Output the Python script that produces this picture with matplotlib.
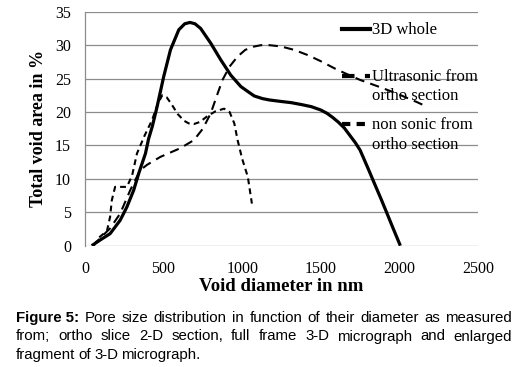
import matplotlib.pyplot as plt
from matplotlib.lines import Line2D

# values
whole_x = [43, 100, 160, 224, 267, 310, 342, 385, 405, 428, 459, 501, 544, 597, 635, 668, 700, 736, 800, 864,
           928, 992, 1040, 1077, 1130, 1174, 1240, 1312, 1380, 1440, 1500, 1540, 1575, 1611, 1650, 1685, 1720,
           1750, 1800, 1845, 1885, 1920, 1960, 2006]
whole_y = [0, 0.9, 1.8, 3.8, 5.8, 8.3, 10.8, 13.8, 16.0, 17.8, 20.8, 25.3, 29.3, 32.3, 33.2, 33.4, 33.2, 32.5,
           30.3, 27.8, 25.5, 23.8, 23.0, 22.4, 22.0, 21.8, 21.6, 21.4, 21.1, 20.8, 20.3, 19.8, 19.2, 18.5, 17.6,
           16.5, 15.4, 14.3, 11.6, 9.1, 6.9, 4.9, 2.6, 0]

ultra_x = [50, 96, 160, 224, 288, 352, 395, 481, 608, 693, 750, 800, 840, 875, 920, 971, 1020, 1077, 1120,
           1174, 1248, 1330, 1419, 1500, 1590, 1654, 1750, 1891, 2000, 2059, 2110, 2165]
ultra_y = [0, 1.1, 2.6, 4.8, 8.3, 11.3, 12.1, 13.3, 14.6, 15.8, 17.5, 19.8, 22.5, 24.8, 26.8, 28.3, 29.3, 29.8,
           30.0, 30.0, 29.8, 29.3, 28.5, 27.6, 26.5, 25.8, 24.8, 23.6, 22.6, 22.0, 21.5, 20.9]

nonsonic_x = [55, 96, 140, 160, 171, 192, 230, 267, 300, 331, 380, 427, 460, 491, 520, 550, 590, 630, 660,
              693, 730, 780, 830, 885, 920, 950, 971, 1000, 1036, 1062]
nonsonic_y = [0, 1.35, 2.2, 4.3, 6.8, 8.8, 8.8, 8.8, 10.5, 13.8, 16.5, 18.8, 21.0, 22.5, 22.2, 21.2, 19.7,
              18.7, 18.3, 18.2, 18.5, 19.4, 20.1, 20.5, 20.0, 18.3, 15.8, 13.0, 10.3, 6.3]

labels = ['3D whole', 'Ultrasonic from\northo section', 'non sonic from\northo section']
x_ticks = [0, 500, 1000, 1500, 2000, 2500]
y_ticks = [0, 5, 10, 15, 20, 25, 30, 35]

serif = ['Liberation Serif', 'DejaVu Serif']
sans = ['Liberation Sans', 'DejaVu Sans']
W, H = 521, 367

fig = plt.figure(figsize=(W / 100, H / 100), dpi=100)
ax = fig.add_axes([0.163, 0.3305, 0.7545, 0.6375])

ax.plot(whole_x, whole_y, color='black', linewidth=2.3, solid_capstyle='butt', solid_joinstyle='round')
ax.plot(ultra_x, ultra_y, color='black', linewidth=1.5, dashes=(4.5, 3))
ax.plot(nonsonic_x, nonsonic_y, color='black', linewidth=1.5, dashes=(2.8, 2))

ax.set_xlim(0, 2500)
ax.set_ylim(0, 35)
ax.set_xticks(x_ticks)
ax.set_yticks(y_ticks)
ax.tick_params(length=0, labelsize=11.5, colors='black')
ax.tick_params(axis='x', pad=11)
ax.tick_params(axis='y', pad=10)
for lab in ax.get_xticklabels() + ax.get_yticklabels():
    lab.set_family(serif)
ax.grid(axis='y', color='#8c8c8c', linewidth=0.9)
ax.set_axisbelow(True)
for s in ['top', 'right', 'bottom']:
    ax.spines[s].set_visible(False)
ax.spines['left'].set_color('#8c8c8c')
ax.spines['left'].set_linewidth(0.9)

ax.set_xlabel('Void diameter in nm', family=serif, fontsize=13.5, fontweight='bold', labelpad=1)
ax.set_ylabel('Total void area in %', family=serif, fontsize=13, fontweight='bold', labelpad=6)

# hand-made legend, markers beside the first text line
leg_styles = [dict(linewidth=3.0), dict(linewidth=3.0, dashes=(3, 2.5)), dict(linewidth=3.0, dashes=(2, 1.5))]
leg_rows = [29, 75.7, 124.3]  # pixel rows of the markers, from the top
for lab, st, yp in zip(labels, leg_styles, leg_rows):
    fig.add_artist(Line2D([341.5 / W, 369.5 / W], [1 - yp / H, 1 - yp / H], color='black', **st))
    for k, part in enumerate(lab.split('\n')):
        fig.text(371.5 / W, 1 - (yp + 5 + 19.3 * k) / H, part, family=serif, fontsize=12,
                 va='baseline', ha='left')

# justified caption
caption = [
    [('Figure 5:', 'bold')] + [(w, 'normal') for w in
                               'Pore size distribution in function of their diameter as measured'.split()],
    [(w, 'normal') for w in 'from; ortho slice 2-D section, full frame 3-D micrograph and enlarged'.split()],
    [(w, 'normal') for w in 'fragment of 3-D micrograph.'.split()],
]
left_px, right_px = 16, 512
line_y = [318, 336.5, 355]
renderer = fig.canvas.get_renderer()
for i, (words, yp) in enumerate(zip(caption, line_y)):
    texts = [fig.text(0, 1 - yp / H, w, family=sans, fontsize=10.8, fontweight=wt, va='center', ha='left')
             for w, wt in words]
    widths = [t.get_window_extent(renderer).width for t in texts]
    if i < len(caption) - 1:
        gap = (right_px - left_px - sum(widths)) / (len(words) - 1)
    else:
        gap = 3.0
    x = left_px
    for t, w in zip(texts, widths):
        t.set_x(x / W)
        x += w + gap

fig.savefig('out.png', dpi=100)
